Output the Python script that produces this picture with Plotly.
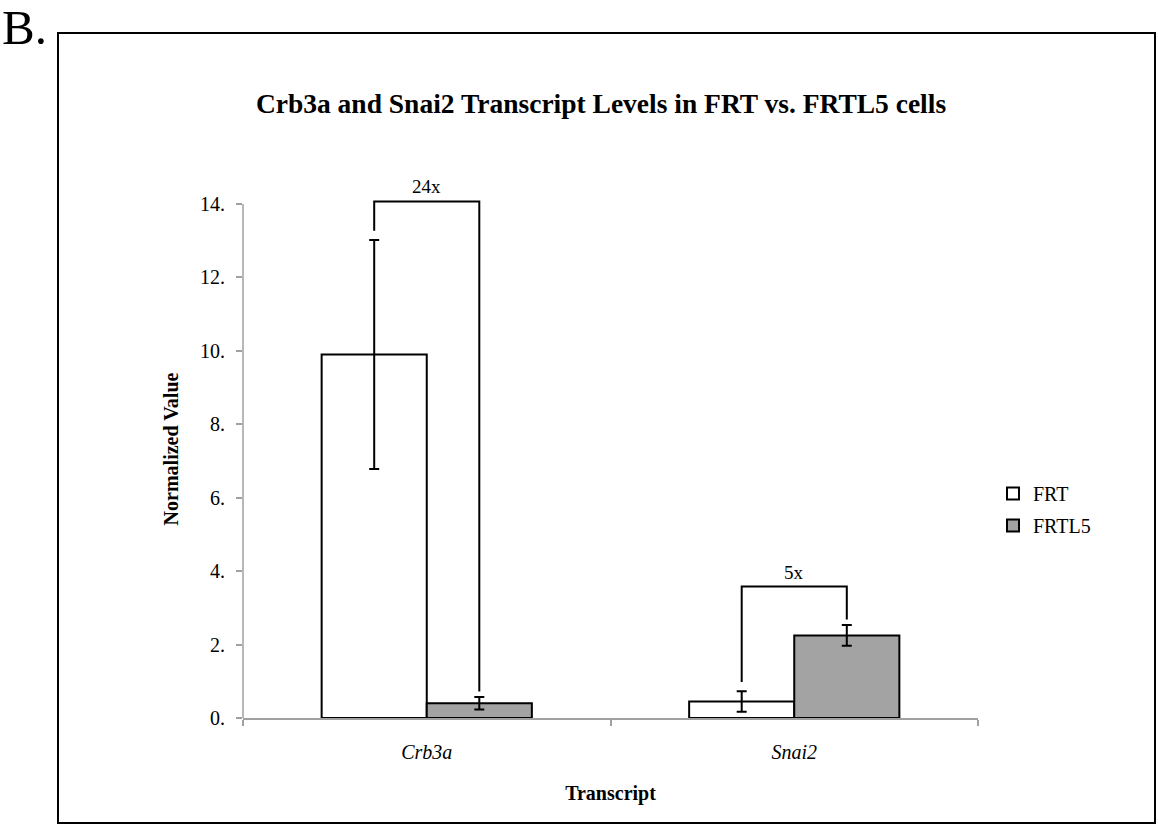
import plotly.graph_objects as go

# Transcript levels (normalized), mean and error per cell line
transcripts = ["Crb3a", "Snai2"]
frt_mean = [9.9, 0.45]
frt_err = [3.12, 0.28]
frtl5_mean = [0.4, 2.25]
frtl5_err = [0.17, 0.28]
fold_labels = ["24x", "5x"]

y_ticks = [0, 2, 4, 6, 8, 10, 12, 14]
y_tick_text = ["0.", "2.", "4.", "6.", "8.", "10.", "12.", "14."]

W, H = 1158, 824
ML, MR, MT, MB = 243, 180, 180, 106
PW, PH = W - ML - MR, H - MT - MB


def px2x(px):
    return (px - ML) / PW


def px2y(py):
    return (H - MB - py) / PH


SERIF = "Liberation Serif"
BARGAP = 0.428
OFF = (1 - BARGAP) / 4  # centre offset of each bar within a group

fig = go.Figure()
fig.add_trace(go.Bar(
    name="FRT", x=transcripts, y=frt_mean, legendgroup="a",
    marker=dict(color="white", line=dict(color="black", width=2)),
    error_y=dict(type="data", array=frt_err, color="black", thickness=2, width=5),
))
fig.add_trace(go.Bar(
    name="FRTL5", x=transcripts, y=frtl5_mean, legendgroup="b",
    marker=dict(color="#A3A3A3", line=dict(color="black", width=2)),
    error_y=dict(type="data", array=frtl5_err, color="black", thickness=2, width=5),
))

shapes = []
annotations = []

# comparison brackets above each pair of bars
for i, lab in enumerate(fold_labels):
    top_l = frt_mean[i] + frt_err[i]
    top_r = frtl5_mean[i] + frtl5_err[i]
    peak = max(top_l, top_r) + 1.05
    xl, xr = i - OFF, i + OFF
    shapes.append(dict(
        type="path", xref="x", yref="y",
        path=f"M {xl},{top_l + 0.25} L {xl},{peak} L {xr},{peak} L {xr},{top_r + 0.15}",
        line=dict(color="black", width=2),
    ))
    annotations.append(dict(
        x=i, y=peak, xref="x", yref="y", text=lab, showarrow=False,
        yanchor="bottom", yshift=2, font=dict(family=SERIF, size=19, color="black"),
    ))

# y axis line (stops at the top tick)
shapes.append(dict(type="line", xref="paper", yref="y", x0=0, x1=0, y0=0, y1=14,
                   line=dict(color="#A0A0A0", width=1.5)))

# outer frame of the panel
shapes.append(dict(type="rect", xref="paper", yref="paper",
                   x0=px2x(58), x1=px2x(1155), y0=px2y(823), y1=px2y(33),
                   line=dict(color="black", width=2), fillcolor="rgba(0,0,0,0)", layer="below"))

# panel letter
annotations.append(dict(
    x=px2x(0), y=px2y(27), xref="paper", yref="paper", text="B.", showarrow=False,
    xanchor="left", yanchor="middle", font=dict(family=SERIF, size=49, color="black"),
))

fig.update_layout(
    width=W, height=H,
    margin=dict(l=ML, r=MR, t=MT, b=MB, pad=0),
    paper_bgcolor="white", plot_bgcolor="white",
    font=dict(family=SERIF, color="black"),
    title=dict(
        text="<b>Crb3a and Snai2 Transcript Levels in FRT vs. FRTL5 cells</b>",
        x=601 / W, xanchor="center", y=1 - 103 / H, yanchor="middle",
        font=dict(family=SERIF, size=27.5, color="black"),
    ),
    barmode="group", bargap=BARGAP, bargroupgap=0,
    showlegend=True,
    legend=dict(
        x=px2x(993), y=px2y(474), xanchor="left", yanchor="top",
        font=dict(family=SERIF, size=20, color="black"),
        tracegroupgap=3, itemwidth=30, bgcolor="rgba(0,0,0,0)",
    ),
    shapes=shapes,
    annotations=annotations,
)

fig.update_xaxes(
    type="category", range=[-0.5, 1.5],
    tickvals=transcripts, ticktext=[f"<i>{t}</i>" for t in transcripts],
    tickfont=dict(family=SERIF, size=20, color="black"),
    showline=True, linecolor="#A0A0A0", linewidth=1.5,
    ticks="outside", tickson="boundaries", ticklen=6, tickcolor="#A0A0A0", tickwidth=1.5,
    ticklabelstandoff=15, showgrid=False, zeroline=False,
    title=dict(text="<b>Transcript</b>", font=dict(family=SERIF, size=20, color="black"), standoff=24),
)
fig.update_yaxes(
    range=[0, (H - MB - MT) / ((H - MB - 204) / 14)],
    tickvals=y_ticks, ticktext=y_tick_text,
    tickfont=dict(family=SERIF, size=20, color="black"),
    showline=False, ticks="outside", ticklen=6, tickcolor="#A0A0A0", tickwidth=1.5,
    ticklabelstandoff=7, showgrid=False, zeroline=False,
    title=dict(text="<b>Normalized Value</b>", font=dict(family=SERIF, size=20, color="black"), standoff=16),
)

fig.write_html("out.html")
